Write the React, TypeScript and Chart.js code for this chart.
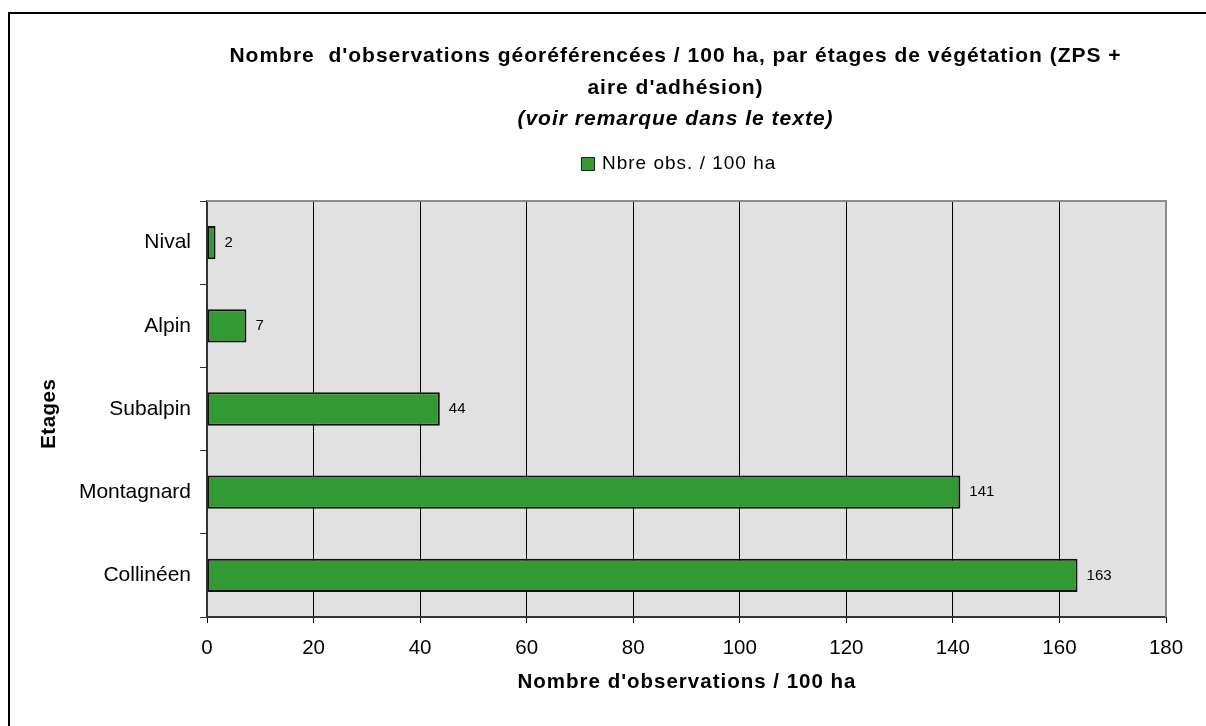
import React, { useEffect, useRef } from "react";
import { Chart, registerables } from "chart.js";

Chart.register(...registerables);

// ---- Data ----
const categories = ["Nival", "Alpin", "Subalpin", "Montagnard", "Collinéen"];
const obsPer100ha = [1.6, 7.4, 43.7, 141.4, 163.4];
const seriesLabel = "Nbre obs. / 100 ha";
const titleLines = [
  "Nombre  d'observations géoréférencées / 100 ha, par étages de végétation (ZPS +",
  "aire d'adhésion)",
];
const subtitleText = "(voir remarque dans le texte)";
const xAxisTitle = "Nombre d'observations / 100 ha";
const yAxisTitle = "Etages";
const xMin = 0;
const xMax = 180;
const xStep = 20;

const FONT = '"Liberation Sans", Arial, sans-serif';
const BAR_COLOR = "#339933";

function spacedText(ctx: any, text: string, x: number, y: number, spacing: number) {
  ctx.letterSpacing = `${spacing}px`;
  ctx.fillText(text, x + spacing / 2, y);
  ctx.letterSpacing = "0px";
}

const decorPlugin = {
  id: "decor",
  beforeDraw(chart: any) {
    const { ctx, chartArea: a } = chart;
    ctx.save();
    ctx.fillStyle = "#ffffff";
    ctx.fillRect(0, 0, chart.width, chart.height);
    ctx.fillStyle = "#e1e1e1";
    ctx.fillRect(a.left, a.top, a.right - a.left, a.bottom - a.top);
    ctx.restore();
  },
  afterDraw(chart: any) {
    const { ctx, chartArea: a } = chart;
    ctx.save();
    // top / right plot border (gray)
    ctx.strokeStyle = "#8c8c8c";
    ctx.lineWidth = 2;
    ctx.beginPath();
    ctx.moveTo(a.left, a.top);
    ctx.lineTo(a.right, a.top);
    ctx.lineTo(a.right, a.bottom);
    ctx.stroke();

    // outer frame
    ctx.strokeStyle = "#000";
    ctx.lineWidth = 2;
    ctx.strokeRect(9, 13, 1400, 1000);

    // title
    ctx.fillStyle = "#000";
    ctx.textAlign = "center";
    ctx.textBaseline = "alphabetic";
    ctx.font = `bold 21px ${FONT}`;
    spacedText(ctx, titleLines[0], 675, 62, 1);
    spacedText(ctx, titleLines[1], 675, 94, 1);
    ctx.font = `italic bold 21px ${FONT}`;
    spacedText(ctx, subtitleText, 675, 125, 1);

    // legend
    ctx.fillStyle = BAR_COLOR;
    ctx.fillRect(581, 157, 13, 13);
    ctx.strokeStyle = "#222";
    ctx.lineWidth = 1;
    ctx.strokeRect(581.5, 157.5, 13, 13);
    ctx.fillStyle = "#000";
    ctx.textAlign = "left";
    ctx.font = `19px ${FONT}`;
    ctx.letterSpacing = "1px";
    ctx.fillText(seriesLabel, 602, 169);
    ctx.letterSpacing = "0px";

    // axis titles
    ctx.font = `bold 20.5px ${FONT}`;
    ctx.textAlign = "center";
    spacedText(ctx, xAxisTitle, (a.left + a.right) / 2, 688, 1);
    ctx.save();
    ctx.translate(55, 414);
    ctx.rotate(-Math.PI / 2);
    spacedText(ctx, yAxisTitle, 0, 0, 0.5);
    ctx.restore();

    // data labels
    const meta = chart.getDatasetMeta(0);
    ctx.font = `15px ${FONT}`;
    ctx.textAlign = "left";
    ctx.textBaseline = "middle";
    meta.data.forEach((el: any, i: number) => {
      ctx.fillText(String(Math.round(obsPer100ha[i])), el.x + 9, el.y);
    });
    ctx.restore();
  },
};

export default function App() {
  const canvasRef = useRef<HTMLCanvasElement | null>(null);

  useEffect(() => {
    if (!canvasRef.current) return;
    const chart = new Chart(canvasRef.current, {
      type: "bar",
      data: {
        labels: categories,
        datasets: [
          {
            label: seriesLabel,
            data: obsPer100ha,
            backgroundColor: BAR_COLOR,
            borderColor: "#111",
            borderWidth: 2,
            borderSkipped: false,
            barPercentage: 0.4,
            categoryPercentage: 1,
          },
        ],
      },
      options: {
        indexAxis: "y",
        animation: false,
        responsive: false,
        devicePixelRatio: 1,
        layout: { padding: { top: 201, left: 10, right: 40, bottom: 49 } },
        plugins: {
          legend: { display: false },
          title: { display: false },
          tooltip: { enabled: false },
        },
        scales: {
          x: {
            type: "linear",
            min: xMin,
            max: xMax,
            ticks: {
              stepSize: xStep,
              color: "#000",
              font: { family: FONT, size: 20.5 },
              padding: 13,
            },
            grid: { color: "#000", lineWidth: 1, tickLength: 6, drawTicks: true },
            border: { color: "#333", width: 2 },
            afterFit: (s: any) => {
              s.height = 60;
            },
          },
          y: {
            type: "category",
            ticks: {
              color: "#000",
              font: { family: FONT, size: 21 },
              padding: 9,
            },
            grid: {
              drawOnChartArea: false,
              drawTicks: true,
              tickLength: 7,
              color: "#333",
              offset: true,
            },
            border: { color: "#333", width: 2 },
            afterFit: (s: any) => {
              s.width = 197;
            },
          },
        },
      },
      plugins: [decorPlugin],
    } as any);
    return () => chart.destroy();
  }, []);

  return (
    <div style={{ position: "absolute", left: 0, top: 0, width: 1206, height: 726 }}>
      <canvas ref={canvasRef} width={1206} height={726} />
    </div>
  );
}
